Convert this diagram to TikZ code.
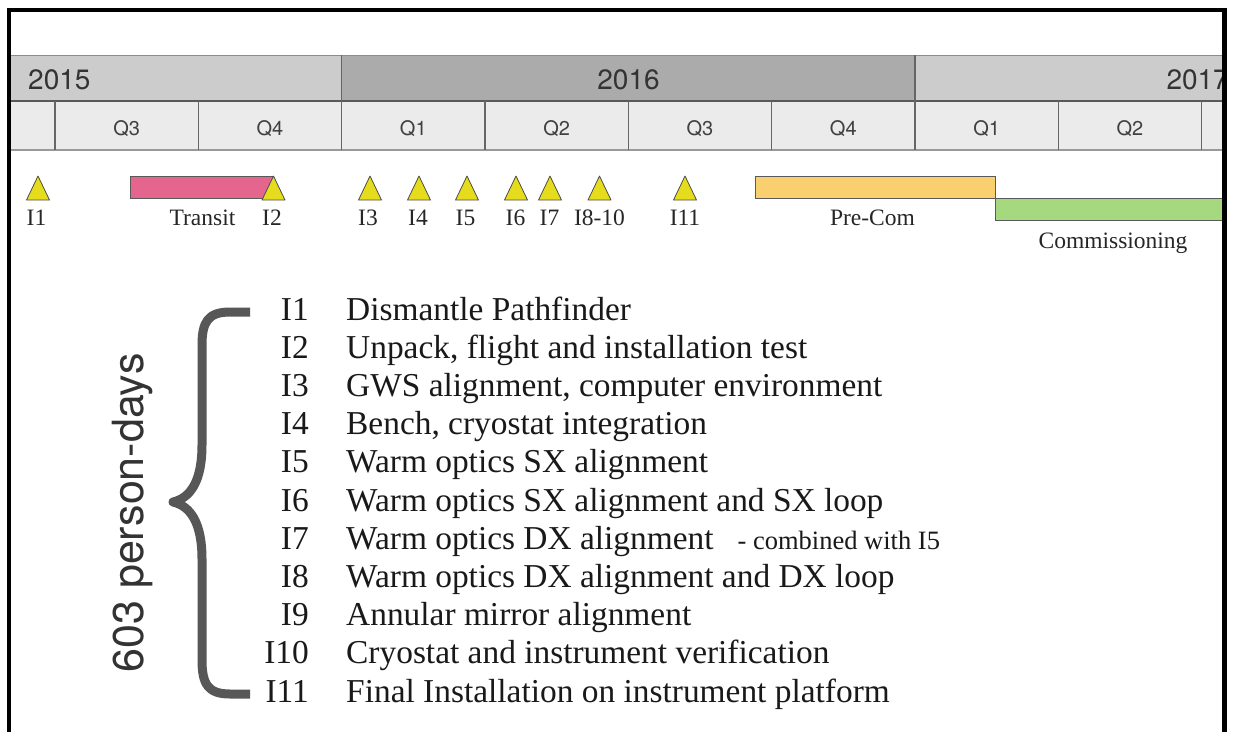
\documentclass[tikz,border=0pt]{standalone}
\usepackage{fontspec}
\setmainfont{Liberation Serif}
\setsansfont{TeX Gyre Heros}
\definecolor{yrA}{HTML}{CCCCCC}
\definecolor{yrB}{HTML}{ABABAB}
\definecolor{qrow}{HTML}{EBEBEB}
\definecolor{triY}{HTML}{E6DC1E}
\definecolor{pinkbar}{HTML}{E4668F}
\definecolor{orangebar}{HTML}{F9CF70}
\definecolor{greenbar}{HTML}{A5D87F}
\definecolor{bracecol}{HTML}{575757}
\begin{document}
\begin{tikzpicture}[x=1pt,y=-1pt,
  yr/.style={font=\sffamily\fontsize{28}{30}\selectfont, text=black!80, inner sep=0pt},
  qr/.style={font=\sffamily\fontsize{20}{22}\selectfont, text=black!75, inner sep=0pt, anchor=base},
  mlab/.style={font=\fontsize{23.5}{25}\selectfont, text=black!85, inner sep=0pt, anchor=base},
  tri/.style={fill=triY, draw=black!70, line width=0.8pt, line join=round},
  bar/.style={draw=black!65, line width=0.8pt},
  itemlab/.style={font=\fontsize{33.4}{38}\selectfont, text=black!90, inner sep=0pt, anchor=base east},
  desc/.style={font=\fontsize{33.4}{38}\selectfont, text=black!90, inner sep=0pt, anchor=base west},
  grid/.style={draw=black!60, line width=1.2pt},
]
\useasboundingbox (0,0) rectangle (1236,731);
\fill[white] (0,0) rectangle (1236,731);
\begin{scope}
  \clip (11,12) rectangle (1222,731);
  % year row
  \fill[yrA] (11,55) rectangle (341.7,101);
  \fill[yrB] (341.7,55) rectangle (915,101);
  \fill[yrA] (915,55) rectangle (1222,101);
  % quarter row
  \fill[qrow] (11,101) rectangle (1222,150);
  \draw[draw=black!45, line width=1pt] (11,55) -- (1222,55);
  \draw[draw=black!65, line width=1.8pt] (11,101) -- (1222,101);
  \draw[draw=black!40, line width=1.2pt] (11,150) -- (1222,150);
  \draw[grid] (341.7,55) -- (341.7,101);
  \draw[grid] (915,55) -- (915,101);
  \foreach \k in {0,...,8} {
    \draw[grid] ({55+143.33*\k},101) -- ({55+143.33*\k},150);
  }
  \node[yr, anchor=base west] (y2015) at (28,89) {2015};
  \node[yr, anchor=base] (y2016) at (628.5,89) {2016};
  \node[yr, anchor=base east] (y2017) at (1229,89) {2017};
  \foreach \k/\q in {0/Q3,1/Q4,2/Q1,3/Q2,4/Q3,5/Q4,6/Q1,7/Q2} {
    \node[qr] (q\k) at ({55+143.33*\k+71.67},135) {\q};
  }
  % bars
  \draw[bar, fill=pinkbar] (130,176) rectangle (273,198);
  \draw[bar, fill=orangebar] (755,176) rectangle (995.5,198);
  \draw[bar, fill=greenbar] (995.5,198) rectangle (1240,220);
  % milestones
  \foreach \n/\x in {1/38,2/273.5,3/370,4/419,5/467,6/516,7/550,8/599.5,11/685} {
    \coordinate (m\n) at (\x,200);
    \draw[tri] (m\n) ++(-11.5,0) -- ++(11.5,-24) -- ++(11.5,24) -- cycle;
  }
  \node[mlab] (l1) at (36.5,225) {I1};
  \node[mlab] (lt) at (202.5,225) {Transit};
  \node[mlab] (l2) at (272,225) {I2};
  \node[mlab] (l3) at (368,225) {I3};
  \node[mlab] (l4) at (418,225) {I4};
  \node[mlab] (l5) at (465.5,225) {I5};
  \node[mlab] (l6) at (515.5,225) {I6};
  \node[mlab] (l7) at (549.5,225) {I7};
  \node[mlab] (l8) at (599.5,225) {I8-10};
  \node[mlab] (l11) at (685,225) {I11};
  \node[mlab] (lpre) at (872.5,225) {Pre-Com};
  \node[mlab] (lcom) at (1113,248) {Commissioning};
\end{scope}
% frame
\draw[black, line width=4.5pt] (9,760) -- (9,10) -- (1224.5,10) -- (1224.5,760);
% list
\foreach \i/\t [count=\c from 0] in {
  I1/Dismantle Pathfinder,
  I2/{Unpack, flight and installation test},
  I3/{GWS alignment, computer environment},
  I4/{Bench, cryostat integration},
  I5/Warm optics SX alignment,
  I6/Warm optics SX alignment and SX loop,
  I7/{Warm optics DX alignment\hspace{24pt}{\fontsize{26.5}{28}\selectfont - combined with I5}},
  I8/Warm optics DX alignment and DX loop,
  I9/Annular mirror alignment,
  I10/Cryostat and instrument verification,
  I11/Final Installation on instrument platform} {
  \node[itemlab] (n\i) at (309,{320+38.2*\c}) {\i};
  \node[desc] (d\i) at (346,{320+38.2*\c}) {\t};
}
% brace
\draw[bracecol, line width=9pt, line join=round]
  (250,312) -- (230,312) .. controls (208,312) and (202,322) .. (202,345)
  -- (202,445) .. controls (202,482) and (190,498) .. (173,502)
  .. controls (190,506) and (202,522) .. (202,559)
  -- (202,660) .. controls (202,684) and (208,694) .. (230,694) -- (250,694);
\node[font=\sffamily\fontsize{43}{45}\selectfont, text=black!80, inner sep=0pt, rotate=90, anchor=base] (pd) at (143,513) {603 person-days};
\end{tikzpicture}
\end{document}
